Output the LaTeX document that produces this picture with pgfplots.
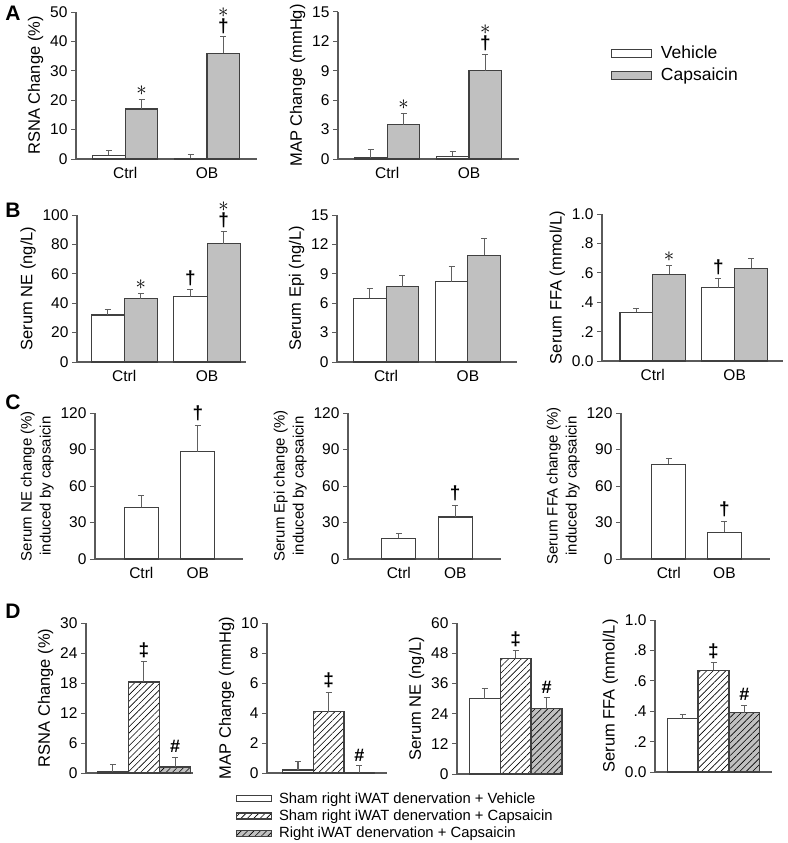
\documentclass[border=0pt]{standalone}
\usepackage{fontspec}
\setmainfont{Liberation Sans}
\usepackage{pgfplots}
\pgfplotsset{compat=1.18}
\usetikzlibrary{patterns.meta}

\definecolor{barc}{HTML}{404040}
\definecolor{axc}{HTML}{5A5A5A}
\definecolor{errc}{HTML}{606060}
\definecolor{grayc}{HTML}{C0C0C0}

\newcommand\fs{\fontsize{15.5}{19}\selectfont}
\newcommand\fl{\fontsize{16.5}{19}\selectfont}
\newcommand\as{{\fontsize{22}{22}\selectfont$\ast$}}
\newcommand\dg{{\bfseries\fontsize{19}{19}\selectfont †}}
\newcommand\ddg{{\bfseries\fontsize{19}{19}\selectfont ‡}}
\newcommand\hs{{\bfseries\fontsize{18}{18}\selectfont \#}}
% marker above an error bar, and the stacked dagger + asterisk
\newcommand\mk[3]{\node[anchor=south,inner sep=0pt,yshift=4pt] at (axis cs:#1,#2) {#3};}
\newcommand\mkk[2]{\node[anchor=south,inner sep=0pt,yshift=3pt] at (axis cs:#1,#2) {\dg};\node[anchor=south,inner sep=0pt,yshift=19pt] at (axis cs:#1,#2) {\as};}

\pgfplotsset{
  panel/.style={
    scale only axis, anchor=south west, clip=false,
    axis x line*=bottom, axis y line*=left,
    axis line style={draw=axc, line width=1.1pt},
    ymin=0,
    tick align=outside, major tick length=5pt,
    ytick style={draw=axc, line width=1pt},
    xtick style={draw=none},
    tick label style={font=\fs},
    label style={font=\fl, align=center},
    /pgf/number format/assume math mode=true,
  },
  clab/.style={label style={font=\fontsize{15}{19}\selectfont}},
  err/.style={
    error bars/y dir=plus, error bars/y explicit,
    error bars/error bar style={draw=errc, line width=1pt},
    error bars/error mark options={rotate=90, mark size=3pt, draw=errc, line width=1pt},
  },
  veh/.style={ybar, bar shift=0pt, fill=white, draw=barc, line width=1.1pt, err},
  cap/.style={ybar, bar shift=0pt, fill=grayc, draw=barc, line width=1.1pt, err},
  hat/.style={ybar, bar shift=0pt, fill=white, draw=barc, line width=1.1pt,
    pattern={Lines[angle=45,distance=4.5pt,line width=0.6pt]}, pattern color=black, err},
  hatg/.style={ybar, bar shift=0pt, draw=barc, line width=1.1pt, preaction={fill=grayc},
    pattern={Lines[angle=45,distance=4.5pt,line width=0.6pt]}, pattern color=black, err},
}

\begin{document}
\begin{tikzpicture}
\path[use as bounding box] (0pt,0pt) rectangle (787pt,-843pt);

\foreach \l/\y in {A/13,B/210,C/402,D/611}
  \node[font=\bfseries\fontsize{21}{21}\selectfont] at (13pt,-\y pt) {\l};

% ---------------- A ----------------
\begin{axis}[panel, at={(76pt,-159pt)}, width=181pt, height=147pt,
  xmin=-0.6, xmax=1.61, ymax=50, ytick={0,10,...,50},
  xtick={0,1}, xticklabels={Ctrl,OB}, bar width=0.4,
  ylabel={RSNA Change (\%)}]
\addplot[veh] coordinates {(-0.2,1.3) +- (0,1.7) (0.8,0.2) +- (0,1.4)};
\addplot[cap] coordinates {(0.2,17) +- (0,3.3) (1.2,36) +- (0,5.5)};
\mk{0.2}{20.3}{\as}
\mkk{1.2}{41.5}
\end{axis}

\begin{axis}[panel, at={(338pt,-159pt)}, width=181pt, height=147pt,
  xmin=-0.6, xmax=1.61, ymax=15, ytick={0,3,...,15},
  xtick={0,1}, xticklabels={Ctrl,OB}, bar width=0.4,
  ylabel={MAP Change (mmHg)},
  legend image code/.code={\draw[#1,/tikz/.cd] (0pt,-4pt) rectangle (40pt,4pt);},
  legend cell align=left,
  legend style={draw=none, fill=none, at={(axis description cs:1.49,0.79)}, anchor=north west,
    font=\fontsize{17.5}{21}\selectfont, row sep=6pt, nodes={inner sep=1pt},
    /tikz/every odd column/.style={column sep=8pt}}]
\addplot[veh] coordinates {(-0.2,0.1) +- (0,0.9) (0.8,0.3) +- (0,0.5)};
\addlegendentry{Vehicle}
\addplot[cap] coordinates {(0.2,3.5) +- (0,1.1) (1.2,9.0) +- (0,1.7)};
\addlegendentry{Capsaicin}
\mk{0.2}{4.6}{\as}
\mkk{1.2}{10.7}
\end{axis}

% ---------------- B ----------------
\begin{axis}[panel, at={(77pt,-362pt)}, width=169pt, height=147pt,
  xmin=-0.57, xmax=1.47, ymax=100, ytick={0,20,...,100},
  xtick={0,1}, xticklabels={Ctrl,OB}, bar width=0.4,
  ylabel={Serum NE (ng/L)}]
\addplot[veh] coordinates {(-0.2,32) +- (0,4) (0.8,44.5) +- (0,4.5)};
\addplot[cap] coordinates {(0.2,43) +- (0,3.5) (1.2,80.5) +- (0,8.5)};
\mk{0.2}{46.5}{\as}
\mk{0.8}{49}{\dg}
\mkk{1.2}{89}
\end{axis}

\begin{axis}[panel, at={(337pt,-362pt)}, width=180pt, height=147pt,
  xmin=-0.6, xmax=1.6, ymax=15, ytick={0,3,...,15},
  xtick={0,1}, xticklabels={Ctrl,OB}, bar width=0.4,
  ylabel={Serum Epi (ng/L)}]
\addplot[veh] coordinates {(-0.2,6.5) +- (0,1.0) (0.8,8.2) +- (0,1.5)};
\addplot[cap] coordinates {(0.2,7.7) +- (0,1.1) (1.2,10.9) +- (0,1.7)};
\end{axis}

\begin{axis}[panel, at={(602pt,-361pt)}, width=181pt, height=147pt,
  xmin=-0.62, xmax=1.59, ymax=1, ytick={0,0.2,0.4,0.6,0.8,1.0},
  yticklabels={0.0,.2,.4,.6,.8,1.0},
  xtick={0,1}, xticklabels={Ctrl,OB}, bar width=0.4,
  ylabel={Serum FFA (mmol/L)}]
\addplot[veh] coordinates {(-0.2,0.33) +- (0,0.03) (0.8,0.50) +- (0,0.06)};
\addplot[cap] coordinates {(0.2,0.59) +- (0,0.06) (1.2,0.63) +- (0,0.07)};
\mk{0.2}{0.65}{\as}
\mk{0.8}{0.56}{\dg}
\end{axis}

% ---------------- C ----------------
\begin{axis}[panel, clab, at={(95pt,-559pt)}, width=148pt, height=146pt,
  xmin=-0.82, xmax=1.80, ymax=120, ytick={0,30,...,120},
  xtick={0,1}, xticklabels={Ctrl,OB}, bar width=0.6,
  ylabel={Serum NE change (\%)\\induced by capsaicin}]
\addplot[veh] coordinates {(0,42.5) +- (0,9.5) (1,88) +- (0,22)};
\mk{1}{110}{\dg}
\end{axis}

\begin{axis}[panel, clab, at={(348pt,-559pt)}, width=153pt, height=146pt,
  xmin=-0.90, xmax=1.81, ymax=120, ytick={0,30,...,120},
  xtick={0,1}, xticklabels={Ctrl,OB}, bar width=0.6,
  ylabel={Serum Epi change (\%)\\induced by capsaicin}]
\addplot[veh] coordinates {(0,17) +- (0,4) (1,34.5) +- (0,9.5)};
\mk{1}{44}{\dg}
\end{axis}

\begin{axis}[panel, clab, at={(621pt,-559pt)}, width=149pt, height=146pt,
  xmin=-0.86, xmax=1.82, ymax=120, ytick={0,30,...,120},
  xtick={0,1}, xticklabels={Ctrl,OB}, bar width=0.61,
  ylabel={Serum FFA change (\%)\\induced by capsaicin}]
\addplot[veh] coordinates {(0,78) +- (0,5) (1,22) +- (0,9)};
\mk{1}{31}{\dg}
\end{axis}

% ---------------- D ----------------
\begin{axis}[panel, at={(86pt,-773pt)}, width=107pt, height=150pt,
  xmin=-0.87, xmax=2.58, ymax=30, ytick={0,6,...,30},
  xtick=\empty, bar width=1,
  ylabel={RSNA Change (\%)}]
\addplot[veh] coordinates {(0,0.3) +- (0,1.4)};
\addplot[hat] coordinates {(1,18.2) +- (0,4.1)};
\addplot[hatg] coordinates {(2,1.2) +- (0,2.0)};
\mk{1}{22.3}{\ddg}
\mk{2}{3.2}{\hs}
\end{axis}

\begin{axis}[panel, at={(267pt,-773pt)}, width=120pt, height=150pt,
  xmin=-1.01, xmax=2.9, ymax=10, ytick={0,2,...,10},
  xtick=\empty, bar width=1,
  ylabel={MAP Change (mmHg)},
  legend image code/.code={\draw[#1,/tikz/.cd] (0pt,-3pt) rectangle (35pt,3pt);},
  legend cell align=left,
  legend style={draw=none, fill=none, at={(axis description cs:-0.285,-0.11)}, anchor=north west,
    font=\fontsize{14.8}{17}\selectfont, row sep=3pt, nodes={inner sep=1pt},
    /tikz/every odd column/.style={column sep=6pt}}]
\addplot[veh] coordinates {(0,0.2) +- (0,0.6)};
\addlegendentry{Sham right iWAT denervation + Vehicle}
\addplot[hat] coordinates {(1,4.1) +- (0,1.3)};
\addlegendentry{Sham right iWAT denervation + Capsaicin}
\addplot[hatg] coordinates {(2,0.0) +- (0,0.5)};
\addlegendentry{Right iWAT denervation + Capsaicin}
\mk{1}{5.4}{\ddg}
\mk{2}{0.5}{\hs}
\end{axis}

\begin{axis}[panel, at={(457pt,-774pt)}, width=105pt, height=151pt,
  xmin=-0.89, xmax=2.5, ymax=60, ytick={0,12,...,60},
  xtick=\empty, bar width=1,
  ylabel={Serum NE (ng/L)}]
\addplot[veh] coordinates {(0,30) +- (0,4)};
\addplot[hat] coordinates {(1,46) +- (0,3)};
\addplot[hatg] coordinates {(2,26) +- (0,4.5)};
\mk{1}{49}{\ddg}
\mk{2}{30.5}{\hs}
\end{axis}

\begin{axis}[panel, at={(655pt,-772pt)}, width=117pt, height=152pt,
  xmin=-0.89, xmax=2.89, ymax=1, ytick={0,0.2,0.4,0.6,0.8,1.0},
  yticklabels={0.0,.2,.4,.6,.8,1.0},
  xtick=\empty, bar width=1,
  ylabel={Serum FFA (mmol/L)}]
\addplot[veh] coordinates {(0,0.35) +- (0,0.03)};
\addplot[hat] coordinates {(1,0.67) +- (0,0.05)};
\addplot[hatg] coordinates {(2,0.39) +- (0,0.05)};
\mk{1}{0.72}{\ddg}
\mk{2}{0.44}{\hs}
\end{axis}
\end{tikzpicture}
\end{document}
